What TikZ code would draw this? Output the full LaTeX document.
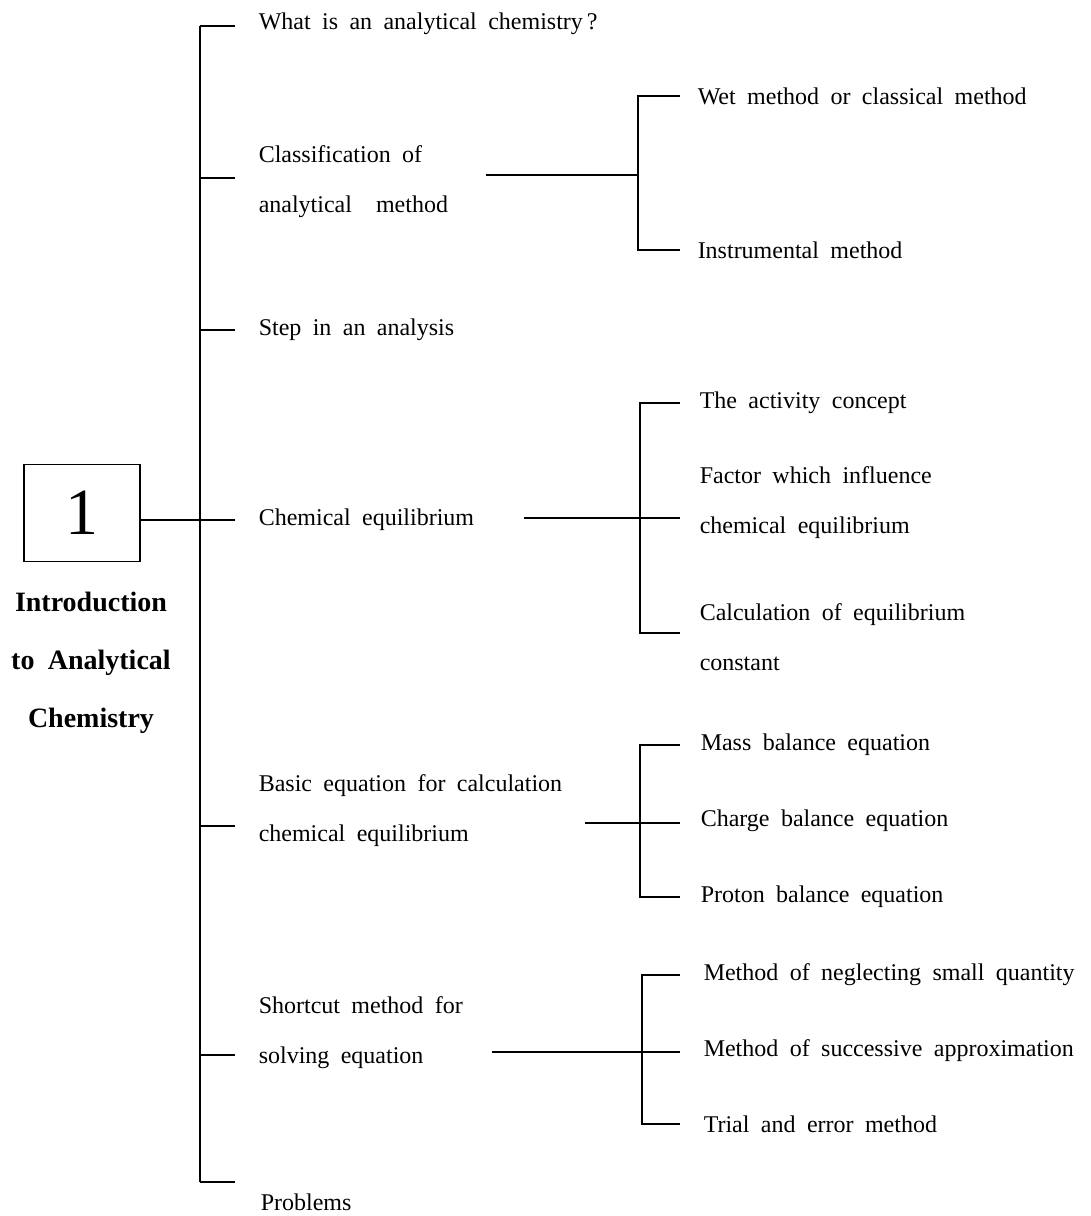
\documentclass[tikz,border=0pt]{standalone}
\usepackage{fontspec}
\setmainfont[WordSpace=1.9]{Liberation Serif}
\begin{document}
\begin{tikzpicture}[x=1pt,y=-1pt,line width=1.5pt,
  txt/.style={font=\fontsize{24}{50}\selectfont,anchor=west,inner sep=0pt,align=left},
  ttl/.style={font=\fontsize{28}{58}\selectfont\bfseries,align=center,inner sep=0pt},
  numbox/.style={draw,minimum width=116pt,minimum height=97pt,inner sep=0pt,font=\fontsize{66}{66}\selectfont}]
\useasboundingbox[fill=white] (0,0) rectangle (1091,1216);

% centre box and title
\node[numbox] (box) at (82,513) {1};
\node[ttl] (title) at (91,663) {Introduction\\to Analytical\\Chemistry};

% first-level texts
\node[txt] (q1) at (258,24)   {What is an analytical chemistry\,?};
\node[txt] (q2) at (258,182)  {Classification of\\analytical\quad method};
\node[txt] (q3) at (258,330)  {Step in an analysis};
\node[txt] (q4) at (258,520)  {Chemical equilibrium};
\node[txt] (q5) at (258,811)  {Basic equation for calculation\\chemical equilibrium};
\node[txt] (q6) at (258,1033) {Shortcut method for\\solving equation};
\node[txt] (q7) at (260,1202) {Problems};

% trunk junctions
\foreach \n/\y in {a/26,b/178,c/330,d/520,e/826,f/1055,g/1182}{
  \coordinate (t\n) at (200,\y);
  \coordinate (u\n) at (235,\y);
}
\draw (ta) -- (tg);
\foreach \n in {a,b,c,d,e,f,g}{\draw (t\n) -- (u\n);}
\draw (box.east |- td) -- (td);

% second-level texts
\node[txt] (w1) at (697,96)   {Wet method or classical method};
\node[txt] (w2) at (697,250)  {Instrumental method};
\node[txt] (c1) at (699,403)  {The activity concept};
\node[txt] (c2) at (699,503)  {Factor which influence\\chemical equilibrium};
\node[txt] (c3) at (699,637)  {Calculation of equilibrium\\constant};
\node[txt] (b1) at (700,745)  {Mass balance equation};
\node[txt] (b2) at (700,821)  {Charge balance equation};
\node[txt] (b3) at (700,897)  {Proton balance equation};
\node[txt] (s1) at (703,975)  {Method of neglecting small quantity};
\node[txt] (s2) at (703,1051) {Method of successive approximation};
\node[txt] (s3) at (703,1124) {Trial and error method};

% classification bracket
\coordinate (k0) at (486,175);
\coordinate (k1) at (638,175);
\draw (k0) -- (k1);
\draw ([xshift=-17pt]w1.west) -| (k1) |- ([xshift=-17pt]w2.west);

% chemical equilibrium bracket
\coordinate (e0) at (524,518);
\coordinate (e2) at (680,518);
\coordinate (e3) at (640,404);
\coordinate (e4) at (640,633);
\draw (e0) -- (e2);
\draw ([xshift=-19pt]c1.west) -- (c1.west -| e3) -- (e4) -- ++(40,0);

% basic equation bracket
\coordinate (f0) at (585,823);
\coordinate (f1) at (640,823);
\coordinate (f2) at (680,823);
\draw (f0) -- (f2);
\draw ([xshift=-20pt]b1.west) -| (f1) |- ([xshift=-20pt]b3.west);

% shortcut bracket
\coordinate (g0) at (492,1052);
\coordinate (g1) at (642,1052);
\coordinate (g2) at (680,1052);
\draw (g0) -- (g2);
\draw ([xshift=-23pt]s1.west) -| (g1) |- ([xshift=-23pt]s3.west);
\end{tikzpicture}
\end{document}
